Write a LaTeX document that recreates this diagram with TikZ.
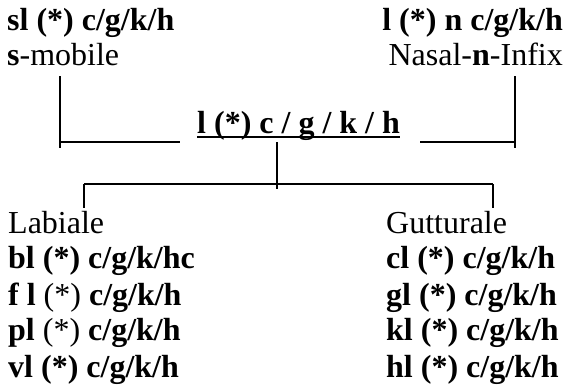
\documentclass[tikz,border=0pt]{standalone}
\usepackage{fontspec}
\setmainfont{Liberation Serif}
\usepackage{tikz}
\usetikzlibrary{calc,positioning}

\begin{document}
\begin{tikzpicture}[x=1pt,y=-1pt,
    lbl/.style={inner sep=0pt, font=\fontsize{32}{36}\selectfont},
    conn/.style={line width=1.9pt}]
        \useasboundingbox (0,0) rectangle (568,389);

        % Ecken der Klammern
        \coordinate (LA) at (60,76);
        \coordinate (LB) at (60,148);
        \coordinate (LC) at (180,142);
        \coordinate (RA) at (515,76);
        \coordinate (RB) at (515,148);
        \coordinate (RC) at (420,142);
        \coordinate (S) at (277,142);
        \coordinate (T) at (277,189);
        \coordinate (BL) at (84,184);
        \coordinate (BR) at (493,184);

        \node[lbl, anchor=base west] (slroot) at (7,30) {\textbf{sl (*) c/g/k/h}};
        \node[lbl, anchor=base west] (smob) at (7,65) {\textbf{s}-mobile};
        \node[lbl, anchor=base east] (nlroot) at (563,30) {\textbf{l (*) n c/g/k/h}};
        \node[lbl, anchor=base east] (nasal) at (563,65) {Nasal-\textbf{n}-Infix};
        \node[lbl, anchor=base west] (root) at (197,133) {\textbf{l (*) c / g / k / h}};

        \node[lbl, anchor=base west] (lab) at (8,233) {Labiale};
        \node[lbl, anchor=base west] (bl) at (8,268) {\textbf{bl (*) c/g/k/hc}};
        \node[lbl, anchor=base west] (fl) at (8,305) {\textbf{f l} (*) \textbf{c/g/k/h}};
        \node[lbl, anchor=base west] (pl) at (8,340) {\textbf{pl} (*) \textbf{c/g/k/h}};
        \node[lbl, anchor=base west] (vl) at (8,377) {\textbf{vl (*) c/g/k/h}};

        \node[lbl, anchor=base west] (gut) at (386,233) {Gutturale};
        \node[lbl, anchor=base west] (cl) at (386,268) {\textbf{cl (*) c/g/k/h}};
        \node[lbl, anchor=base west] (gl) at (386,305) {\textbf{gl (*) c/g/k/h}};
        \node[lbl, anchor=base west] (kl) at (386,340) {\textbf{kl (*) c/g/k/h}};
        \node[lbl, anchor=base west] (hl) at (386,377) {\textbf{hl (*) c/g/k/h}};

        % Unterstreichung
        \draw[line width=1.5pt] ([yshift=-4pt]root.base west) -- ([yshift=-4pt]root.base east);

        % obere Klammern
        \draw[conn] (LA) -- (LB);
        \draw[conn] (LA |- LC) -- (LC);
        \draw[conn] (RA) -- (RB);
        \draw[conn] (RC) -- (RA |- RC);

        % untere Verzweigung
        \draw[conn] (S) -- (T);
        \draw[conn] (BL) -- (BR);
        \draw[conn] (BL) -- ++(0,24);
        \draw[conn] (BR) -- ++(0,24);
    \end{tikzpicture}
\end{document}
